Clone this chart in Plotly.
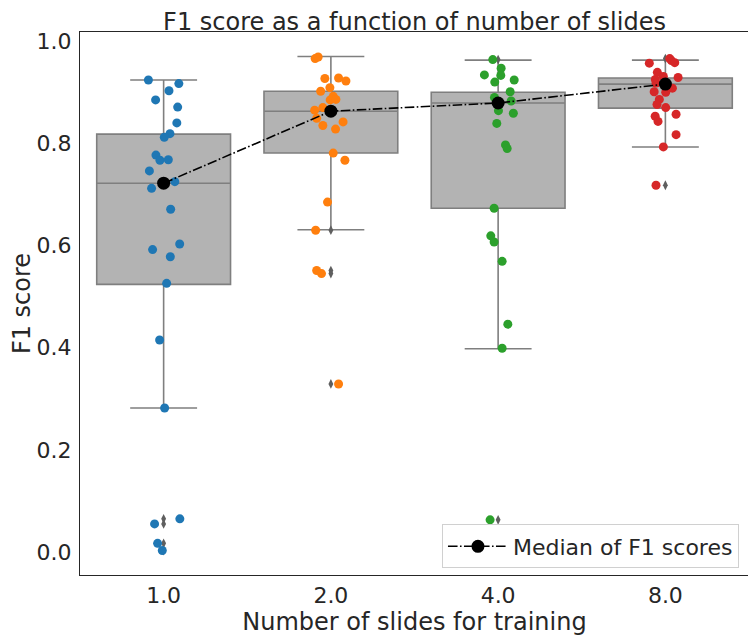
import plotly.graph_objects as go

# slides used for training (categories) and box statistics
slides = ["1.0", "2.0", "4.0", "8.0"]
q1 = [0.524, 0.781, 0.673, 0.869]
medians = [0.722, 0.863, 0.879, 0.916]
q3 = [0.818, 0.902, 0.900, 0.928]
low_fence = [0.282, 0.631, 0.398, 0.793]
high_fence = [0.924, 0.970, 0.963, 0.963]

# individual F1 scores per category, with the strip-plot jitter
f1_1 = [0.924, 0.917, 0.903, 0.885, 0.871, 0.840, 0.819, 0.812, 0.777, 0.767, 0.768, 0.746,
        0.725, 0.712, 0.671, 0.603, 0.592, 0.578, 0.526, 0.415, 0.282, 0.065, 0.055, 0.017, 0.003]
jit_1 = [-0.091, 0.091, 0.032, -0.048, 0.084, 0.079, 0.038, 0.004, -0.046, -0.022, 0.028, -0.085,
         0.067, -0.072, 0.042, 0.096, -0.066, 0.040, 0.018, -0.024, 0.006, 0.097, -0.054, -0.036, -0.008]
f1_2 = [0.966, 0.969, 0.927, 0.928, 0.922, 0.909, 0.902, 0.892, 0.885, 0.886, 0.865, 0.870,
        0.849, 0.842, 0.835, 0.828, 0.781, 0.767, 0.685, 0.630, 0.551, 0.545, 0.329]
jit_2 = [-0.094, -0.076, -0.036, 0.046, 0.090, -0.006, -0.061, 0.014, -0.004, 0.030, -0.097, -0.048,
         -0.085, 0.073, -0.048, 0.028, 0.014, 0.084, -0.020, -0.091, -0.085, -0.056, 0.046]
f1_4 = [0.964, 0.947, 0.934, 0.933, 0.924, 0.920, 0.901, 0.890, 0.883, 0.864, 0.859, 0.839,
        0.797, 0.790, 0.673, 0.619, 0.607, 0.569, 0.446, 0.399, 0.063]
jit_4 = [-0.032, 0.018, -0.082, 0.016, 0.096, -0.020, 0.072, -0.022, 0.078, 0.002, 0.091, -0.008,
         0.044, 0.054, -0.024, -0.044, -0.024, 0.024, 0.058, 0.024, -0.048]
f1_8 = [0.966, 0.962, 0.958, 0.957, 0.939, 0.931, 0.929, 0.925, 0.918, 0.908, 0.901, 0.900,
        0.886, 0.876, 0.870, 0.857, 0.853, 0.843, 0.817, 0.793, 0.718]
jit_8 = [0.026, 0.036, 0.056, -0.096, -0.048, -0.012, 0.076, -0.060, -0.056, 0.042, -0.067, 0.002,
         -0.036, -0.050, 0.002, 0.064, -0.061, -0.044, 0.064, -0.012, -0.056]

scores = [f1_1, f1_2, f1_4, f1_8]
jitters = [jit_1, jit_2, jit_4, jit_8]
colors = ["#1f77b4", "#ff7f0e", "#2ca02c", "#d62728"]

text_color = "#262626"
font = "DejaVu Sans"

fig = go.Figure()

for i in range(len(slides)):
    fig.add_trace(go.Box(x=[i], q1=[q1[i]], median=[medians[i]], q3=[q3[i]],
                         lowerfence=[low_fence[i]], upperfence=[high_fence[i]],
                         width=0.8, whiskerwidth=0.5, boxpoints=False,
                         fillcolor="#b3b3b3", line=dict(color="#7f7f7f", width=1.6),
                         showlegend=False, hoverinfo="skip"))

# fliers: values outside the whiskers, drawn at the category centre
for i in range(len(slides)):
    out = [v for v in scores[i] if v < low_fence[i] - 1e-9 or v > high_fence[i] + 1e-9]
    if out:
        fig.add_trace(go.Scatter(x=[i] * len(out), y=out, mode="markers",
                                 marker=dict(symbol="diamond-tall", size=7, color="#5f5f5f"),
                                 showlegend=False, hoverinfo="skip"))

for i in range(len(slides)):
    fig.add_trace(go.Scatter(x=[i + j for j in jitters[i]], y=scores[i], mode="markers",
                             marker=dict(size=9, color=colors[i], line=dict(width=0)),
                             showlegend=False))

fig.add_trace(go.Scatter(x=list(range(len(slides))), y=medians, mode="lines+markers",
                         name="Median of F1 scores",
                         line=dict(color="black", width=1.6, dash="9.6px,2.4px,1.6px,2.4px"),
                         marker=dict(size=13, color="black")))

# the page body adds an 8px offset, so the figure is 748x632 with margins shifted accordingly
fig.update_layout(
    width=748, height=632,
    margin=dict(l=72, r=7, t=24, b=65),
    paper_bgcolor="white", plot_bgcolor="white",
    font=dict(family=font, size=22, color=text_color),
    title=dict(text="F1 score as a function of number of slides", x=0.5, xref="paper",
               y=1 - 14 / 632, yanchor="middle", font=dict(size=24, color=text_color)),
    legend=dict(x=0.985, y=0.012, xanchor="right", yanchor="bottom", itemwidth=60,
                bgcolor="white", bordercolor="#d0d0d0", borderwidth=1,
                font=dict(size=22, color=text_color)),
    showlegend=True,
)
fig.update_xaxes(range=[-0.5, 3.5], tickvals=list(range(len(slides))), ticktext=slides,
                 showgrid=False, zeroline=False, ticks="", automargin=False,
                 showline=True, mirror=True, linecolor=text_color, linewidth=1.3,
                 title=dict(text="Number of slides for training", font=dict(size=24), standoff=3))
fig.update_yaxes(range=[-0.045, 1.018], tickvals=[0, 0.2, 0.4, 0.6, 0.8, 1.0], tickformat=".1f",
                 showgrid=False, zeroline=False, ticks="", automargin=False, ticklabelstandoff=3,
                 showline=True, mirror=True, linecolor=text_color, linewidth=1.3,
                 title=dict(text="F1 score", font=dict(size=24), standoff=2))

fig.write_html("out.html")
